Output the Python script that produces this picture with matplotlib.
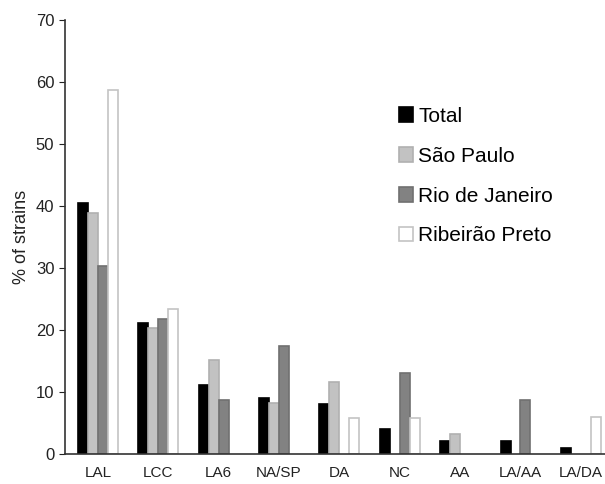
import matplotlib.pyplot as plt
import numpy as np

plt.rcParams['font.family'] = ['Liberation Sans', 'DejaVu Sans']

# Data
categories = ['LAL', 'LCC', 'LA6', 'NA/SP', 'DA', 'NC', 'AA', 'LA/AA', 'LA/DA']
total = [40.4, 21.2, 11.2, 9.1, 8.0, 4.1, 2.1, 2.1, 1.0]
sao_paulo = [38.9, 20.3, 15.2, 8.2, 11.6, 0, 3.3, 0, 0]
rio = [30.3, 21.7, 8.7, 17.4, 0, 13.0, 0, 8.7, 0]
ribeirao = [58.7, 23.4, 0, 0, 5.8, 5.8, 0, 0, 5.9]

series = [
    ('Total', total, '#000000', '#000000'),
    ('São Paulo', sao_paulo, '#c2c2c2', '#b0b0b0'),
    ('Rio de Janeiro', rio, '#828282', '#707070'),
    ('Ribeirão Preto', ribeirao, '#ffffff', '#c4c4c4'),
]

fig = plt.figure(figsize=(6.05, 4.84), dpi=100)
ax = fig.add_axes([0.107, 0.062, 0.893, 0.897])

x = np.arange(len(categories))
w = 0.165
for i, (name, vals, fc, ec) in enumerate(series):
    vals = np.array(vals, dtype=float)
    mask = vals > 0
    ax.bar(x[mask] + (i - 1.5) * w, vals[mask], width=w, color=fc,
           edgecolor=ec, linewidth=1.2, label=name)

ax.set_ylim(0, 70)
ax.set_yticks(range(0, 71, 10))
ax.set_xlim(-0.55, 8.4)
ax.set_xticks(x)
ax.set_xticklabels(categories, fontsize=11, color='#222222')
ax.tick_params(axis='x', length=0, pad=9)
ax.tick_params(axis='y', labelsize=12, length=4, direction='out', colors='#222222')
ax.set_ylabel('% of strains', fontsize=13, color='#222222', labelpad=4)
for s in ['top', 'right']:
    ax.spines[s].set_visible(False)
for s in ['left', 'bottom']:
    ax.spines[s].set_color('#333333')
    ax.spines[s].set_linewidth(1.2)

ax.legend(loc='upper left', bbox_to_anchor=(0.628, 0.818), bbox_transform=fig.transFigure,
          frameon=False, fontsize=15, handlelength=0.7, handleheight=0.7,
          handletextpad=0.25, labelspacing=1.0)

fig.savefig('out.png', dpi=100)
